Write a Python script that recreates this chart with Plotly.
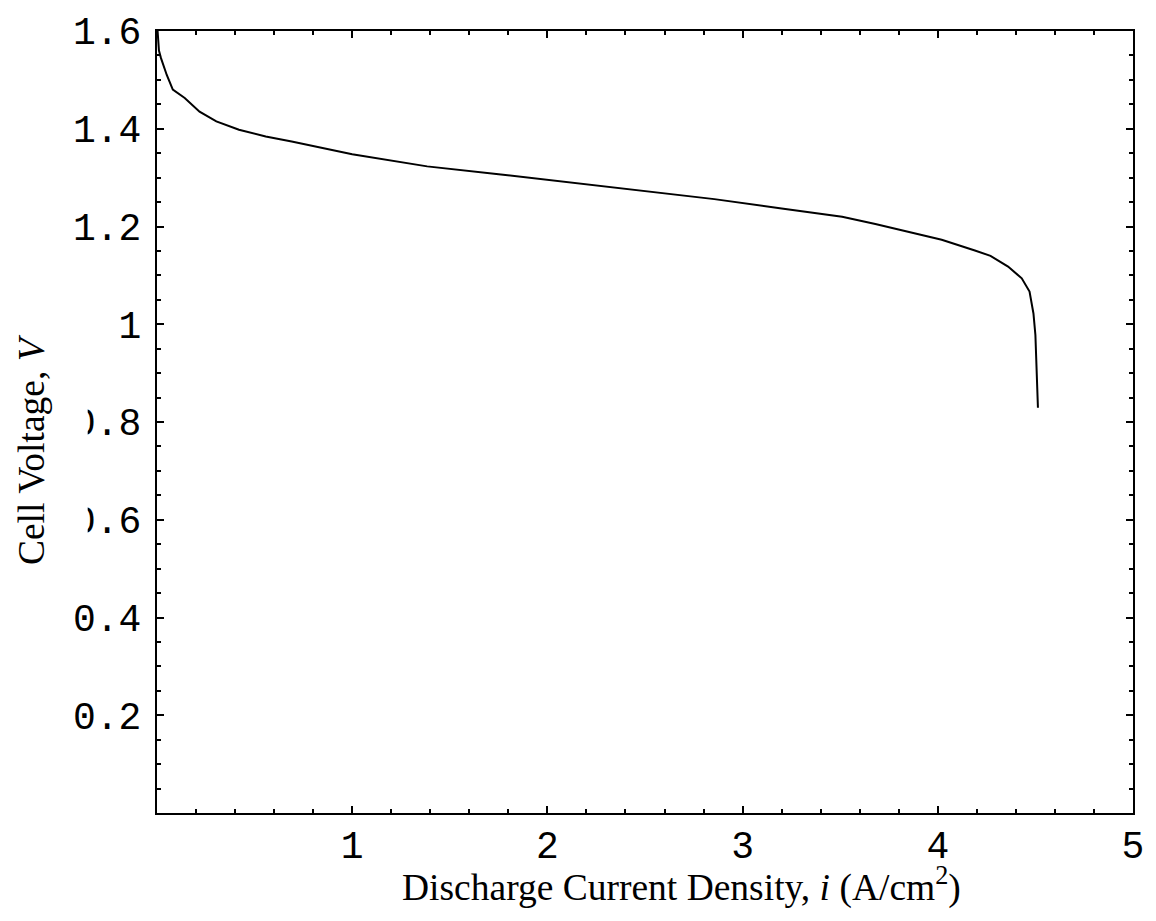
import plotly.graph_objects as go

# Discharge polarization curve of the cell
current_density = [0.0, 0.003, 0.01, 0.02, 0.05, 0.081, 0.142, 0.218, 0.304, 0.42,
                   0.557, 0.69, 1.0, 1.384, 1.75, 2.094, 2.5, 2.855, 3.2, 3.51,
                   3.68, 3.85, 4.02, 4.19, 4.27, 4.36, 4.43, 4.47, 4.49, 4.50, 4.513]
cell_voltage = [1.70, 1.60, 1.56, 1.545, 1.51, 1.48, 1.463, 1.435, 1.415, 1.398,
                1.384, 1.374, 1.348, 1.323, 1.307, 1.291, 1.272, 1.256, 1.237, 1.22,
                1.205, 1.189, 1.173, 1.151, 1.14, 1.118, 1.094, 1.067, 1.022, 0.978, 0.829]

x_ticks = [1, 2, 3, 4, 5]
y_ticks = [0.2, 0.4, 0.6, 0.8, 1.0, 1.2, 1.4, 1.6]
y_tick_text = ["0.2", "0.4", "0.6", "0.8", "1", "1.2", "1.4", "1.6"]

W, H = 1156, 921
ML, MR, MT, MB = 157, 13, 25, 108
PW, PH = W - ML - MR, H - MT - MB

def px_to_paper_x(px):
    return (px - ML) / PW

def px_to_paper_y(py):
    return (H - MB - py) / PH

tick_font = dict(family="Liberation Mono, Courier New, monospace", size=38, color="black")
title_font = dict(family="Liberation Serif, Times New Roman, serif", size=37.5, color="black")

fig = go.Figure()
fig.add_trace(go.Scatter(
    x=current_density, y=cell_voltage, mode="lines",
    line=dict(color="black", width=2), showlegend=False, cliponaxis=True,
))

axis_common = dict(
    showgrid=False, zeroline=False, showline=True, linecolor="black", linewidth=2,
    mirror="ticks", ticks="inside", tickcolor="black", tickwidth=2, ticklen=7,
    tickfont=tick_font,
)

fig.update_xaxes(
    range=[0, 5], tickvals=x_ticks, ticktext=[str(v) for v in x_ticks],
    minor=dict(ticks="inside", dtick=0.2, tick0=0, ticklen=4, tickwidth=2, tickcolor="black"),
    ticklabelstandoff=-3,
    **axis_common,
)
fig.update_yaxes(
    range=[0, 1.6], tickvals=y_ticks, ticktext=y_tick_text,
    minor=dict(ticks="inside", dtick=0.05, tick0=0, ticklen=4, tickwidth=2, tickcolor="black"),
    ticklabelstandoff=6,
    **axis_common,
)

# White backing behind the rotated y-axis title
fig.add_shape(
    type="rect", xref="paper", yref="paper", layer="above",
    x0=px_to_paper_x(-5), x1=px_to_paper_x(87),
    y0=px_to_paper_y(570), y1=px_to_paper_y(300),
    fillcolor="white", line=dict(width=0),
)

fig.add_annotation(
    text="Discharge Current Density, <i>i</i> (A/cm<sup>2</sup>)",
    xref="paper", yref="paper", x=px_to_paper_x(687), y=px_to_paper_y(886),
    xanchor="center", yanchor="middle", showarrow=False, font=title_font,
)
fig.add_annotation(
    text="Cell Voltage, <i>V</i>",
    xref="paper", yref="paper", x=px_to_paper_x(31), y=px_to_paper_y(447),
    xanchor="center", yanchor="middle", showarrow=False, font=title_font, textangle=-90,
)

fig.update_layout(
    width=W, height=H,
    margin=dict(l=ML, r=MR, t=MT, b=MB, pad=0),
    paper_bgcolor="white", plot_bgcolor="white",
)

fig.write_html("out.html")
